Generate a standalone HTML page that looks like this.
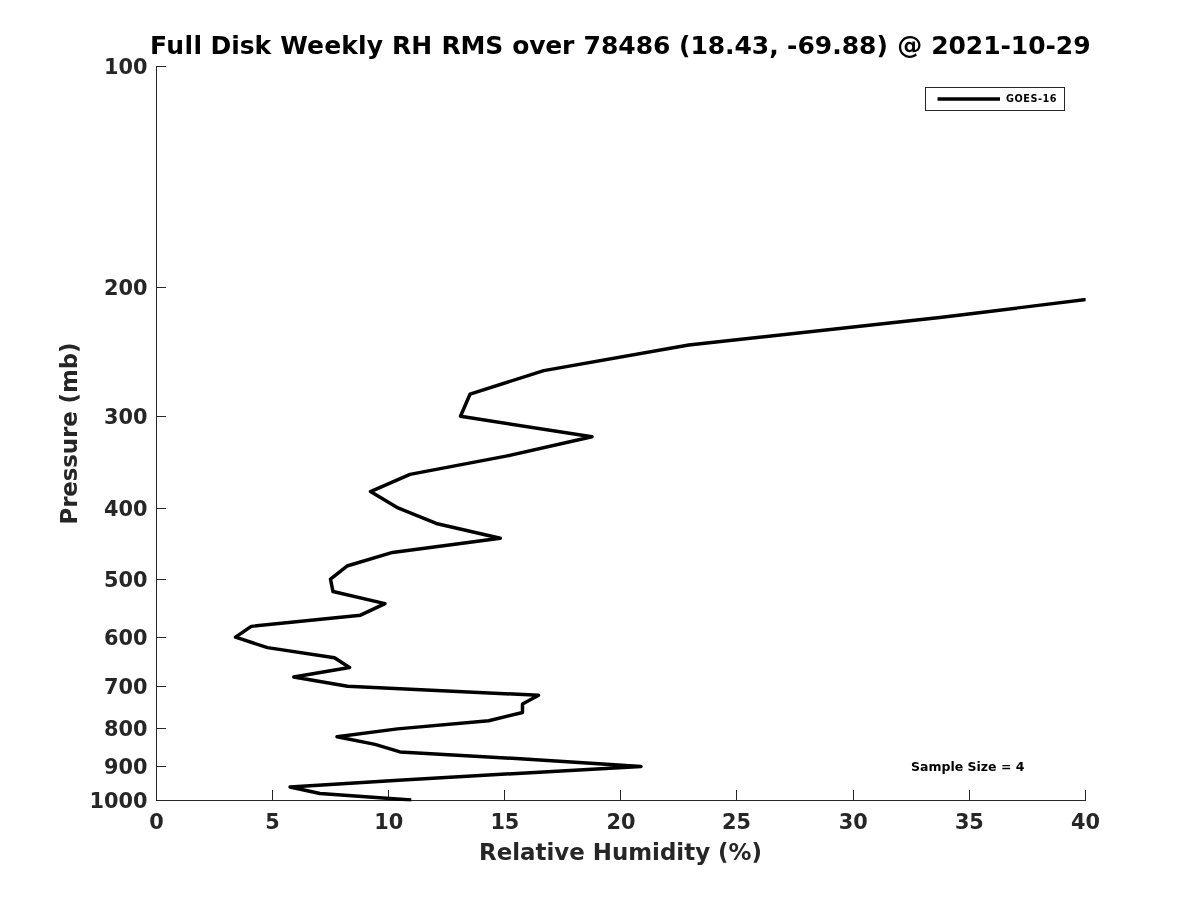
<!DOCTYPE html>
<html lang="en">
<head>
<meta charset="utf-8">
<title>Full Disk Weekly RH RMS</title>
<style>
html,body{margin:0;padding:0;background:#fff;}
body{width:1200px;height:900px;overflow:hidden;}
svg{display:block;will-change:transform;-webkit-font-smoothing:antialiased;}
text{font-family:"DejaVu Sans","Liberation Sans",sans-serif;font-weight:bold;}
.ax line,.ax polyline{stroke:#262626;stroke-width:1;fill:none;shape-rendering:crispEdges;}
.tl text{font-size:20.83px;fill:#262626;}
</style>
</head>
<body>
<svg width="1200" height="900" viewBox="0 0 1200 900">
<rect width="1200" height="900" fill="#ffffff"/>
<defs><clipPath id="axclip"><rect x="156" y="66" width="929.6" height="735.5"/></clipPath></defs>
<text y="54" font-size="25" fill="#000000"><tspan x="150.02" textLength="51.98" lengthAdjust="spacing">Full</tspan> <tspan x="210.39">Disk</tspan> <tspan x="280.32" textLength="102.69" lengthAdjust="spacing">Weekly</tspan> <tspan x="392.10">RH</tspan> <tspan x="441.49" textLength="61.74" lengthAdjust="spacing">RMS</tspan> <tspan x="512.22" textLength="62.16" lengthAdjust="spacing">over</tspan> <tspan x="583.49">78486</tspan> <tspan x="679.06" textLength="99.62" lengthAdjust="spacing">(18.43,</tspan> <tspan x="787.06">-69.88)</tspan> <tspan x="897.14">@</tspan> <tspan x="931.14" textLength="159.44" lengthAdjust="spacing">2021-10-29</tspan></text>
<g class="ax">
<polyline points="156.5,66 156.5,800.5 1086,800.5"/>
<line x1="156.5" y1="66.5" x2="166" y2="66.5"/>
<line x1="156.5" y1="287.5" x2="166" y2="287.5"/>
<line x1="156.5" y1="416.5" x2="166" y2="416.5"/>
<line x1="156.5" y1="508.5" x2="166" y2="508.5"/>
<line x1="156.5" y1="579.5" x2="166" y2="579.5"/>
<line x1="156.5" y1="637.5" x2="166" y2="637.5"/>
<line x1="156.5" y1="686.5" x2="166" y2="686.5"/>
<line x1="156.5" y1="728.5" x2="166" y2="728.5"/>
<line x1="156.5" y1="766.5" x2="166" y2="766.5"/>
<line x1="156.5" y1="800.5" x2="166" y2="800.5"/>
<line x1="156.5" y1="800.5" x2="156.5" y2="790"/>
<line x1="272.5" y1="800.5" x2="272.5" y2="790"/>
<line x1="388.5" y1="800.5" x2="388.5" y2="790"/>
<line x1="504.5" y1="800.5" x2="504.5" y2="790"/>
<line x1="620.5" y1="800.5" x2="620.5" y2="790"/>
<line x1="736.5" y1="800.5" x2="736.5" y2="790"/>
<line x1="853.5" y1="800.5" x2="853.5" y2="790"/>
<line x1="969.5" y1="800.5" x2="969.5" y2="790"/>
<line x1="1085.5" y1="800.5" x2="1085.5" y2="790"/>
</g>
<g class="tl">
<text x="147.5" y="73.80" text-anchor="end">100</text>
<text x="147.5" y="294.76" text-anchor="end">200</text>
<text x="147.5" y="424.01" text-anchor="end">300</text>
<text x="147.5" y="515.71" text-anchor="end">400</text>
<text x="147.5" y="586.84" text-anchor="end">500</text>
<text x="147.5" y="644.96" text-anchor="end">600</text>
<text x="147.5" y="694.10" text-anchor="end">700</text>
<text x="147.5" y="735.97" text-anchor="end">800</text>
<text x="147.5" y="774.21" text-anchor="end">900</text>
<text x="147.5" y="807.80" text-anchor="end">1000</text>
<text x="156.50" y="829" text-anchor="middle">0</text>
<text x="272.62" y="829" text-anchor="middle">5</text>
<text x="388.75" y="829" text-anchor="middle">10</text>
<text x="504.88" y="829" text-anchor="middle">15</text>
<text x="621.00" y="829" text-anchor="middle">20</text>
<text x="736.42" y="829" text-anchor="middle">25</text>
<text x="853.25" y="829" text-anchor="middle">30</text>
<text x="969.38" y="829" text-anchor="middle">35</text>
<text x="1085.50" y="829" text-anchor="middle">40</text>
</g>
<text x="620.5" y="860" text-anchor="middle" font-size="22.92" fill="#262626">Relative Humidity (%)</text>
<text transform="translate(77.0,433.5) rotate(-90)" text-anchor="middle" font-size="22.92" fill="#262626" textLength="182" lengthAdjust="spacing">Pressure (mb)</text>
<g clip-path="url(#axclip)">
<polyline points="1186.00,286.96 942.00,317.34 688.75,345.08 543.75,370.59 470.00,394.21 460.50,416.21 592.00,436.78 506.00,456.11 410.00,474.33 370.50,491.56 398.00,507.91 436.25,523.46 500.25,538.29 392.50,552.46 347.00,566.03 330.50,579.04 333.00,591.55 385.00,603.58 360.50,615.17 251.25,626.36 235.50,637.16 267.50,647.62 334.50,657.74 349.50,667.55 293.75,677.06 347.50,686.30 538.60,695.28 522.50,704.02 522.50,712.52 488.75,720.80 397.50,728.87 337.00,736.74 375.00,744.42 400.00,751.92 528.00,759.25 641.00,766.41 517.00,773.42 398.50,780.28 290.00,786.99 320.00,793.56 411.25,800.00" fill="none" stroke="#000000" stroke-width="3.47" stroke-linejoin="round" stroke-linecap="butt"/>
</g>
<rect x="925.5" y="87.5" width="139" height="23" fill="#ffffff" stroke="#262626" stroke-width="1" shape-rendering="crispEdges"/>
<line x1="937.5" y1="98.9" x2="1000" y2="98.9" stroke="#000000" stroke-width="3.47"/>
<text x="1006" y="102" font-size="9.72" fill="#000000" textLength="50.5" lengthAdjust="spacing">GOES-16</text>
<text x="911" y="770.5" font-size="12.5" fill="#000000">Sample Size = 4</text>
</svg>
</body>
</html>
